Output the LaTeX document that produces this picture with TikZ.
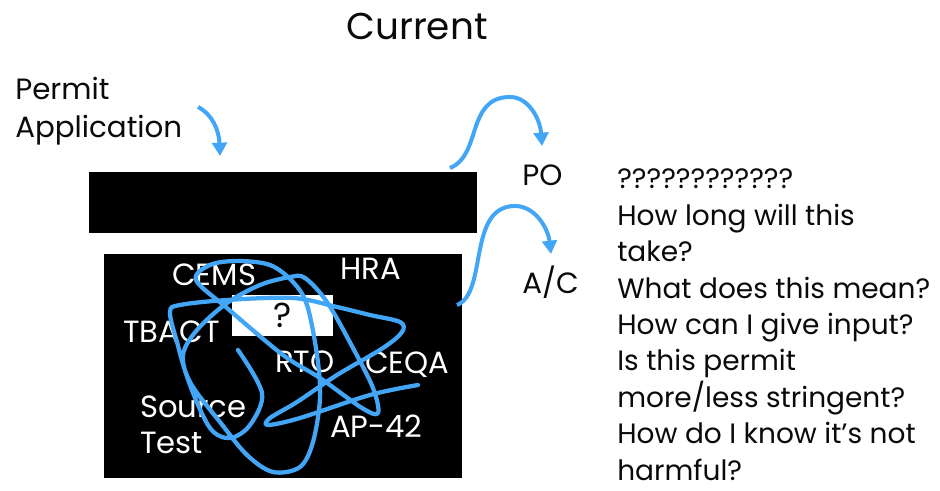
\documentclass[tikz,border=0pt]{standalone}
\usepackage{fontspec}
\setmainfont{Poppins}
\usetikzlibrary{arrows.meta,positioning}
\definecolor{slideInk}   {HTML}{0A0A0A}
\definecolor{scrawlBlue} {HTML}{42A5F5}

\begin{document}
\begin{tikzpicture}[x=0.75pt, y=-0.75pt,
  every node/.style ={inner sep=0pt, text=slideInk},
  ttl/.style        ={font=\fontsize{28}{34}\selectfont, anchor=base},
  lbl/.style        ={font=\fontsize{22}{27.9}\selectfont, anchor=base west, align=left},
  qlbl/.style       ={lbl, font=\fontsize{21}{27.3}\selectfont},
  wlbl/.style       ={lbl, text=white, font=\fontsize{23}{27}\selectfont},
  blackbox/.style   ={fill=black, draw=none},
  whitebox/.style   ={fill=white, draw=none},
  flow/.style       ={-{Triangle[width=11pt,length=10pt]}, line width=3pt, scrawlBlue},
  scrawl/.style     ={line width=3.2pt, scrawlBlue, line cap=round, line join=round},
]
\useasboundingbox (0,0) rectangle (940,490);

% title and input (multi-line nodes sit on their last baseline)
\node[ttl] (title) at (417,39) {Current};
\node[lbl] (permit) at (15,137) {Permit\\Application};

% the process
\node[blackbox, minimum width=291pt, minimum height=45.75pt] (bar) at (283,202.5) {};
\node[blackbox, minimum width=268.5pt, minimum height=168pt] (box) at (283,366) {};
\node[whitebox, minimum width=75.75pt, minimum height=30.75pt] (unknown) at (282.5,315.5) {};
\node[font=\fontsize{26}{30}\selectfont] (qmark) at (unknown) {?};

\node[wlbl] (cems)   at (172,285) {CEMS};
\node[wlbl] (hra)    at (340,279) {HRA};
\node[wlbl] (tbact)  at (123,342) {TBACT};
\node[wlbl] (rto)    at (275,372) {RTO};
\node[wlbl] (ceqa)   at (365,373) {CEQA};
\node[wlbl] (source) at (140,453) {Source\\Test};
\node[wlbl] (ap)     at (330,437) {AP-42};

% outputs
\node[lbl] (po) at (522,185) {PO};
\node[lbl] (ac) at (522,293) {A/C};
\node[qlbl] (questions) at (617,480) {????????????\\How long will this\\take?\\What does this mean?\\How can I give input?\\Is this permit\\more/less stringent?\\How do I know it's not\\harmful?};

% arrows
\coordinate (permitTail) at (198,107);
\coordinate (barTop)     at (220,156);
\coordinate (poTail)     at (450,168);
\coordinate (poTip)      at (542,146);
\coordinate (acTail)     at (457,305);
\coordinate (acTip)      at (551,254);
\draw[flow] (permitTail) .. controls (212,114) and (219,130) .. (barTop);
\draw[flow] (poTail) .. controls (482,155) and (466,97) .. (510,97)
  .. controls (528,97) and (540,118) .. (poTip);
\draw[flow] (acTail) .. controls (488,293) and (467,206) .. (515,206)
  .. controls (535,206) and (548,228) .. (acTip);

% the tangle
\draw[scrawl] plot[smooth, tension=0.55] coordinates {
  (238,350) (262,393) (250,425) (230,438) (210,428) (190,385) (183,355)
  (197,330) (227,303) (260,285) (290,277) (305,278) (327,302) (353,348)
  (373,388) (378,413) (362,408) (320,378) (283,355) (227,308) (196,280)
  (210,265) (237,261) (270,265) (293,282) (307,305) (317,355) (320,398)
  (313,442) (300,467) (273,472) (247,455) (220,422) (190,382) (177,342)
  (170,312) (180,305) (227,300) (293,298) (337,307) (370,315) (400,322)
  (402,332) (383,348) (337,375) (297,402) (270,418) (268,425) (300,418)
  (370,395) (418,385)};

\end{tikzpicture}
\end{document}
